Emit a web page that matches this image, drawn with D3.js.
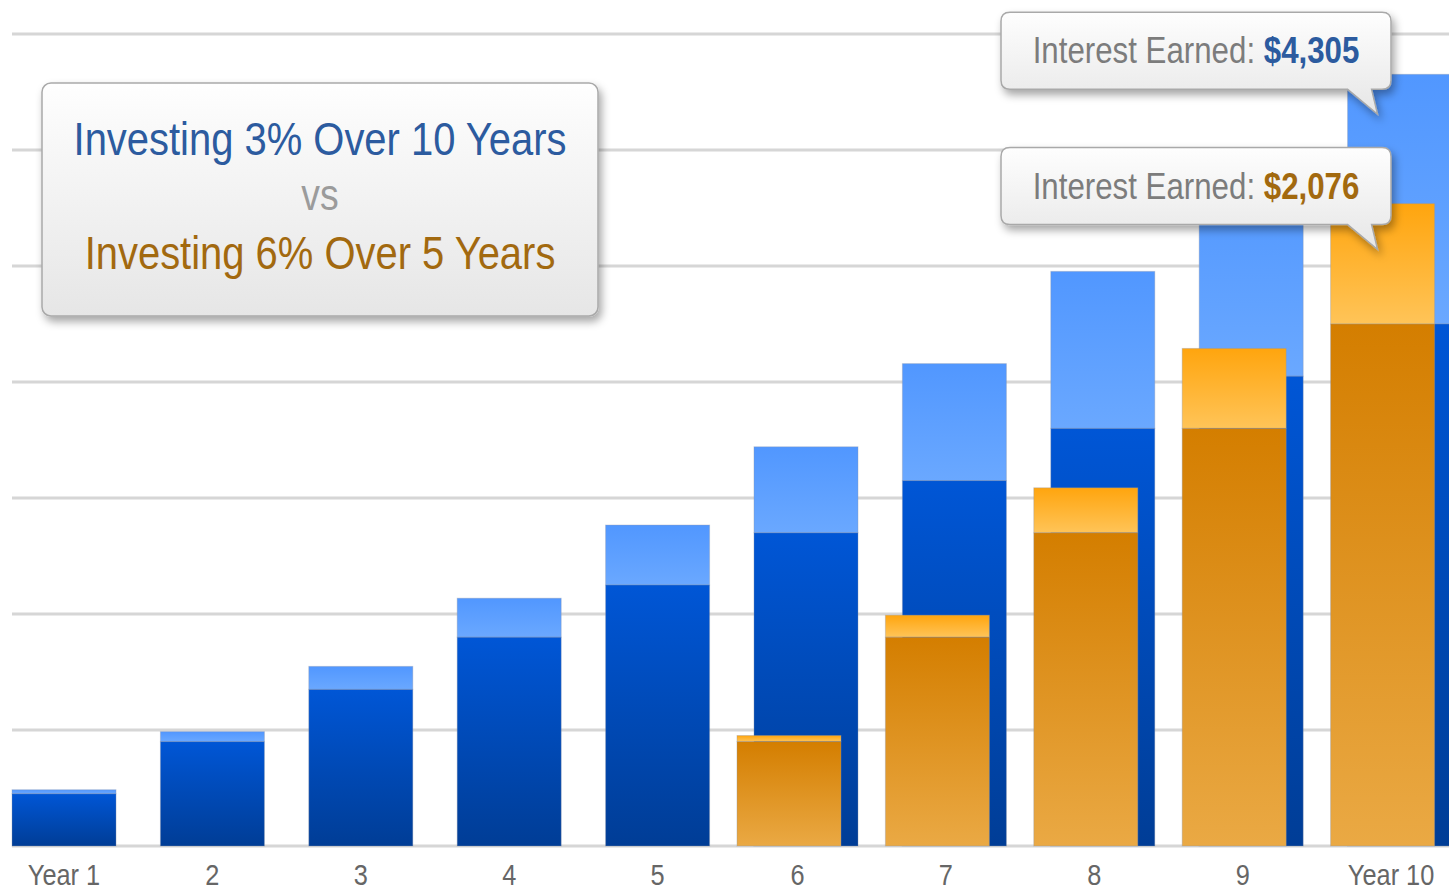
<!DOCTYPE html>
<html>
<head>
<meta charset="utf-8">
<script src="https://cdn.jsdelivr.net/npm/d3@7"></script>
<style>
  body { margin: 0; background: #fff; }
  svg { display: block; }
  .narrow { font-family: "Liberation Sans", Arial, Helvetica, sans-serif; }
</style>
</head>
<body>
<svg id="chart"></svg>
<script>
// years on the x axis
const years = ["Year 1", "2", "3", "4", "5", "6", "7", "8", "9", "Year 10"];

// 3% over 10 years: deposits and interest earned ($)
const blueDeposits = [900, 1800, 2700, 3600, 4500, 5400, 6300, 7200, 8100, 9000];
const blueInterest = [70, 172, 397, 672, 1034, 1483, 2017, 2707, 3448, 4305];

// 6% over 5 years (starts in year 6)
const orangeYears = ["6", "7", "8", "9", "Year 10"];
const orangeDeposits = [1800, 3600, 5400, 7200, 9000];
const orangeInterest = [105, 380, 776, 1379, 2076];

const gridValues = [0, 2000, 4000, 6000, 8000, 10000, 12000, 14000];

const titleLines = ["Investing 3% Over 10 Years", "vs", "Investing 6% Over 5 Years"];

const width = 1449;
const height = 890;
const squeeze = 0.845; // condensed look for the labels

const svg = d3.select('#chart')
  .attr('width', width)
  .attr('height', height);

const x = d3.scaleBand()
  .domain(years)
  .range([12, 1451.6])
  .paddingInner(0.299)
  .paddingOuter(0);

const y = d3.scaleLinear()
  .domain([0, 14000])
  .range([846, 34]);

const orangeShift = -17;

const defs = svg.append('defs');

function vGrad(id, top, bottom) {
  const g = defs.append('linearGradient')
    .attr('id', id)
    .attr('x1', 0).attr('y1', 0).attr('x2', 0).attr('y2', 1);
  g.append('stop').attr('offset', '0%').attr('stop-color', top);
  g.append('stop').attr('offset', '100%').attr('stop-color', bottom);
}
vGrad('blueDark', '#0056d6', '#003d96');
vGrad('blueLight', '#5197ff', '#6aa8ff');
vGrad('orangeDark', '#d47e00', '#eaa944');
vGrad('orangeLight', '#ffa50e', '#ffc458');
vGrad('boxFill', '#fefefe', '#e6e6e6');

const shadow = defs.append('filter')
  .attr('id', 'shadow')
  .attr('x', '-10%').attr('y', '-20%')
  .attr('width', '130%').attr('height', '160%');
shadow.append('feDropShadow')
  .attr('dx', 3).attr('dy', 5)
  .attr('stdDeviation', 4)
  .attr('flood-color', '#000')
  .attr('flood-opacity', 0.35);

// gridlines
svg.append('g')
  .selectAll('line')
  .data(gridValues)
  .enter()
  .append('line')
  .attr('x1', 12)
  .attr('x2', width)
  .attr('y1', d => y(d))
  .attr('y2', d => y(d))
  .style('stroke', '#d6d6d6')
  .style('stroke-width', 3);

const blueData = years.map((yr, i) => ({ year: yr, dep: blueDeposits[i], int: blueInterest[i] }));
const orangeData = orangeYears.map((yr, i) => ({ year: yr, dep: orangeDeposits[i], int: orangeInterest[i] }));

function drawBars(data, dx, darkFill, lightFill) {
  const g = svg.append('g');
  g.selectAll('rect.light')
    .data(data)
    .enter()
    .append('rect')
    .attr('class', 'light')
    .attr('x', d => x(d.year) + dx)
    .attr('width', x.bandwidth())
    .attr('y', d => y(d.dep + d.int))
    .attr('height', d => y(d.dep) - y(d.dep + d.int))
    .style('fill', `url(#${lightFill})`)
    .style('stroke', 'rgba(140,150,170,0.35)')
    .style('stroke-width', 1);
  g.selectAll('rect.dark')
    .data(data)
    .enter()
    .append('rect')
    .attr('class', 'dark')
    .attr('x', d => x(d.year) + dx)
    .attr('width', x.bandwidth())
    .attr('y', d => y(d.dep))
    .attr('height', d => y(0) - y(d.dep))
    .style('fill', `url(#${darkFill})`)
    .style('stroke', 'rgba(140,150,170,0.35)')
    .style('stroke-width', 1);
}

drawBars(blueData, 0, 'blueDark', 'blueLight');
drawBars(orangeData, orangeShift, 'orangeDark', 'orangeLight');

// x labels, centred on the group of bars in each year
svg.append('g')
  .selectAll('text')
  .data(years)
  .enter()
  .append('text')
  .attr('class', 'narrow')
  .attr('transform', d => {
    const left = orangeYears.includes(d) ? x(d) + orangeShift : x(d);
    const cx = (left + x(d) + x.bandwidth()) / 2;
    return `translate(${cx},885) scale(${squeeze},1)`;
  })
  .attr('text-anchor', 'middle')
  .style('font-size', '30px')
  .style('fill', '#666')
  .text(d => d);

// title box
const title = svg.append('g');
title.append('rect')
  .attr('x', 42).attr('y', 83)
  .attr('width', 556).attr('height', 233)
  .attr('rx', 9)
  .style('fill', 'url(#boxFill)')
  .style('stroke', '#a9a9a9')
  .style('stroke-width', 1.5)
  .attr('filter', 'url(#shadow)');

const titleColors = ['#2c5b9f', '#9b9b9b', '#a2690f'];
const titleBase = [155, 210, 269];
const titleSize = [47, 44, 47];
title.selectAll('text')
  .data(titleLines)
  .enter()
  .append('text')
  .attr('class', 'narrow')
  .attr('transform', (d, i) => `translate(320,${titleBase[i]}) scale(0.85,1)`)
  .attr('text-anchor', 'middle')
  .style('font-size', (d, i) => titleSize[i] + 'px')
  .style('fill', (d, i) => titleColors[i])
  .text(d => d);

// callouts for the interest earned in year 10
const lastBlue = blueData[blueData.length - 1];
const lastOrange = orangeData[orangeData.length - 1];
const callouts = [
  { value: lastBlue.int, total: lastBlue.dep + lastBlue.int, color: '#2c5b9f', drop: 40 },
  { value: lastOrange.int, total: lastOrange.dep + lastOrange.int, color: '#a2690f', drop: 46 }
];

const fmt = d3.format('$,');

callouts.forEach(c => {
  const tipX = x('Year 10') + 30;
  const tipY = y(c.total) + c.drop;
  const y1 = tipY - 25;
  const y0 = y1 - 77;
  const x0 = 1001, x1 = 1391, r = 9;
  const p1 = tipX - 30, p2 = tipX - 6;
  const path = `M${x0 + r},${y0} H${x1 - r} Q${x1},${y0} ${x1},${y0 + r} V${y1 - r} Q${x1},${y1} ${x1 - r},${y1}` +
    ` H${p2} L${tipX},${tipY} L${p1},${y1} H${x0 + r} Q${x0},${y1} ${x0},${y1 - r} V${y0 + r} Q${x0},${y0} ${x0 + r},${y0} Z`;
  const g = svg.append('g');
  g.append('path')
    .attr('d', path)
    .style('fill', 'url(#boxFill)')
    .style('stroke', '#a9a9a9')
    .style('stroke-width', 1.5)
    .attr('filter', 'url(#shadow)');
  const t = g.append('text')
    .attr('class', 'narrow')
    .attr('transform', `translate(${(x0 + x1) / 2},${y0 + 51}) scale(0.845,1)`)
    .attr('text-anchor', 'middle')
    .style('font-size', '37px');
  t.append('tspan').style('fill', '#7c7c7c').text('Interest Earned: ');
  t.append('tspan').style('fill', c.color).style('font-weight', 'bold').text(fmt(c.value));
});
</script>
</body>
</html>
